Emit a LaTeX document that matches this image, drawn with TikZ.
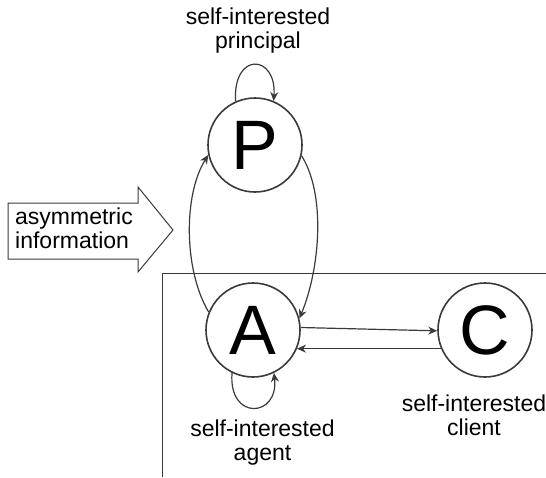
\documentclass[tikz,border=0pt]{standalone}
\usepackage{fontspec}
\setmainfont{Liberation Sans}
\usetikzlibrary{arrows.meta}
\definecolor{ln}{HTML}{3A3A3A}
\begin{document}
\begin{tikzpicture}[x=1pt,y=-1pt,
  actor/.style={circle,draw=ln,line width=1.6pt,minimum size=94pt,inner sep=0pt,font=\fontsize{70}{70}\selectfont},
  lbl/.style={align=center,inner sep=0pt,font=\fontsize{23}{24}\selectfont},
  conn/.style={draw=ln,line width=1.2pt,-{Stealth[length=9pt,width=8pt]}}]
\useasboundingbox (0,0) rectangle (546,477);
% frame
\coordinate (f1) at (162,477);
\coordinate (f2) at (162,273);
\coordinate (f3) at (546,273);
\draw[ln,line width=0.9pt] (f1) -- (f2) -- (f3);
% big arrow
\draw[ln,line width=1pt,fill=white] (8,203) -- (138,203) -- (138,187) -- (173,230) -- (138,272) -- (138,259) -- (8,259) -- cycle;
\node[lbl,align=left,anchor=west] (info) at (15,228.5) {asymmetric\\information};
% actors
\node[actor] (P) at (255,145) {P};
\node[actor] (A) at (253,330) {A};
\node[actor] (C) at (485,330) {C};
% labels
\node[lbl] (lp) at (258,31) {self-interested\\principal};
\node[lbl] (la) at (262.5,443) {self-interested\\agent};
\node[lbl] (lc) at (474,415) {self-interested\\client};
% connectors
\draw[conn] (A.158) .. controls +(-25,-42) and +(-25,40) .. (P.192);
\draw[conn] (P.347) .. controls +(25,40) and +(20,-48) .. (A.14);
\draw[conn] (P.114) .. controls +(-3,-50) and +(3,-47) .. (P.67);
\draw[conn] (A.-116) .. controls +(-4,48) and +(5,45) .. (A.-64);
\draw[conn] (A.3) -- (C.181);
\draw[conn] (C.203) -- (A.-23);
\end{tikzpicture}
\end{document}
